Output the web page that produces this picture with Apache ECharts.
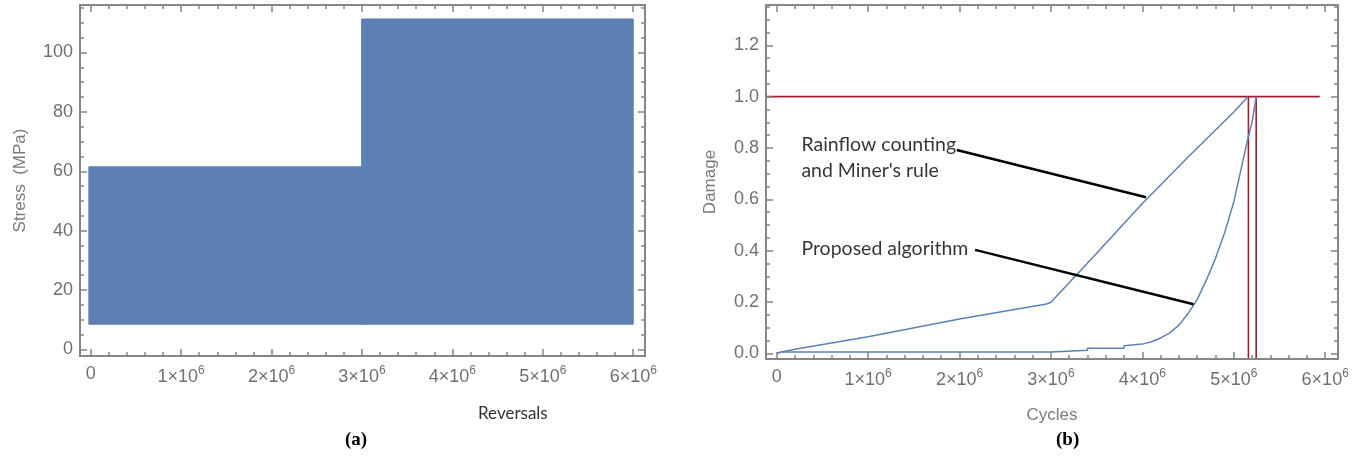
<!DOCTYPE html>
<html>
<head>
<meta charset="utf-8">
<script src="https://cdn.jsdelivr.net/npm/echarts@6/dist/echarts.min.js"></script>
<style>
  html, body { margin: 0; padding: 0; background: #fff; }
  #chart { width: 1369px; height: 460px; }
</style>
</head>
<body>
<div id="chart"></div>
<script>
// (a) stress history band
const reversals = [-0.02e6, 3e6, 3e6, 6.0e6];
const stressLow = [8.5, 8.5, 8.5, 8.5];
const stressHigh = [61.5, 61.5, 111.3, 111.3];
const stressTicks = [0, 20, 40, 60, 80, 100];

// (b) damage curves
const rainflowCycles = [0, 0.05e6, 0.2e6, 1e6, 2e6, 2.95e6, 3.0e6, 3.5e6, 4.0e6, 4.5e6, 5.0e6, 5.155e6];
const rainflowDamage = [0, 0.005, 0.016, 0.065, 0.134, 0.192, 0.199, 0.39, 0.584, 0.765, 0.94, 1.0];
const proposedCycles = [0, 0.05e6, 3e6, 3e6, 3.4e6, 3.4e6, 3.8e6, 3.8e6, 4.0e6, 4.1e6, 4.2e6, 4.3e6, 4.4e6, 4.5e6, 4.6e6, 4.7e6, 4.8e6, 4.9e6, 5.0e6, 5.1e6, 5.15e6, 5.2e6, 5.245e6];
const proposedDamage = [0, 0.005, 0.005, 0.012, 0.012, 0.02, 0.02, 0.03, 0.036, 0.045, 0.06, 0.08, 0.11, 0.155, 0.21, 0.285, 0.37, 0.47, 0.59, 0.75, 0.83, 0.9, 1.0];
const limitCycles = [-0.2e6, 5.94e6];
const limitDamage = [1.0, 1.0];
const failureCycles = [5.16e6, 5.245e6];
const damageTicks = [0, 0.2, 0.4, 0.6, 0.8, 1.0, 1.2];
const cycleTicks = [0, 1e6, 2e6, 3e6, 4e6, 5e6, 6e6];

// annotations
const noteCycles = [0.27e6, 0.27e6];
const noteDamage = [0.761, 0.409];
const noteText = ['Rainflow counting\nand Miner\'s rule', 'Proposed algorithm'];
const leaderRainflow = [[1.97e6, 0.792], [4.04e6, 0.608]];
const leaderProposed = [[2.17e6, 0.403], [4.56e6, 0.191]];

const BLUE = '#5e81b5';
const RED = '#a31a2e';
const FRAME = '#858585';
const LABEL = '#707070';

function minors(lo, hi, step, majorStep) {
  const out = [];
  for (let i = Math.ceil(lo / step); i * step <= hi; i++) {
    const v = i * step;
    if (Math.abs(v / majorStep - Math.round(v / majorStep)) > 1e-6) out.push(v);
  }
  return out;
}

function xFmt(v) {
  if (v === 0) return '{n|0}';
  return '{n|' + Math.round(v / 1e6) + '×10}{e|6}';
}

const labelRich = {
  n: { fontSize: 18, color: LABEL, fontFamily: 'Liberation Sans', verticalAlign: 'bottom' },
  e: { fontSize: 12, color: LABEL, fontFamily: 'Liberation Sans', verticalAlign: 'bottom', padding: [0, 0, 9, 0] }
};

// 4 x axes + 4 y axes per grid: major/minor on each side of the frame
function frameAxes(dim, grid, min, max, majors, minorList, withLabels, fmt) {
  const sides = dim === 'x' ? ['bottom', 'top'] : ['left', 'right'];
  const axes = [];
  sides.forEach((pos, s) => {
    [majors, minorList].forEach((vals, k) => {
      axes.push({
        type: 'value', gridIndex: grid, position: pos, min: min, max: max, z: 10,
        splitLine: { show: false },
        axisLine: { show: k === 0, onZero: false, lineStyle: { color: FRAME, width: 2 } },
        axisTick: { show: true, inside: true, length: k === 0 ? 7 : 4, customValues: vals,
          lineStyle: { color: FRAME, width: 1.5 } },
        axisLabel: s === 0 && k === 0 && withLabels ? {
          show: true, customValues: vals, formatter: fmt, rich: dim === 'x' ? labelRich : undefined,
          color: LABEL, fontSize: 18, fontFamily: 'Liberation Sans', margin: dim === 'x' ? 9 : 7
        } : { show: false }
      });
    });
  });
  return axes;
}

const xA = frameAxes('x', 0, -0.118e6, 6.13e6, cycleTicks, minors(0, 6.13e6, 0.2e6, 1e6), true, xFmt);
const yA = frameAxes('y', 0, -2.2, 116, stressTicks, minors(0, 116, 5, 20), true, v => String(v));
const xB = frameAxes('x', 1, -0.117e6, 6.14e6, cycleTicks, minors(0, 6.14e6, 0.2e6, 1e6), true, xFmt);
const yB = frameAxes('y', 1, -0.022, 1.357, damageTicks, minors(0, 1.357, 0.05, 0.2), true, v => v.toFixed(1));

yA[0].name = 'Stress  (MPa)';
yB[0].name = 'Damage';
xB[0].name = 'Cycles';
[yA[0], yB[0], xB[0]].forEach(a => {
  a.nameLocation = 'middle';
  a.nameTextStyle = { color: '#7a7a7a', fontSize: 17, fontFamily: 'Liberation Sans' };
});
yA[0].nameGap = 51;
yB[0].nameGap = 47;
xB[0].nameGap = 48;

const chart = echarts.init(document.getElementById('chart'), null, { renderer: 'canvas' });

// band between stressLow and stressHigh, drawn segment by segment
function renderBand(params, api) {
  const i = params.dataIndex;
  if (i >= reversals.length - 1) return null;
  const pts = [
    api.coord([reversals[i], stressLow[i]]),
    api.coord([reversals[i + 1], stressLow[i + 1]]),
    api.coord([reversals[i + 1], stressHigh[i + 1]]),
    api.coord([reversals[i], stressHigh[i]])
  ];
  return {
    type: 'polygon',
    shape: { points: pts },
    style: { fill: BLUE, stroke: BLUE, lineWidth: 1 }
  };
}

const option = {
  animation: false,
  grid: [
    { left: 80, top: 5, width: 565, height: 351 },
    { left: 766, top: 5, width: 572, height: 354 }
  ],
  xAxis: xA.concat(xB),
  yAxis: yA.concat(yB),
  graphic: [
    { type: 'text', left: 518 - 40, top: 405, style: { text: 'Reversals', font: '17px Lato', fill: '#333' } },
    { type: 'text', left: 345, top: 431, style: { text: '(a)', font: 'bold 19px "Liberation Serif"', fill: '#000' } },
    { type: 'text', left: 1056, top: 431, style: { text: '(b)', font: 'bold 19px "Liberation Serif"', fill: '#000' } }
  ],
  series: [
    {
      type: 'custom', xAxisIndex: 0, yAxisIndex: 0, renderItem: renderBand,
      encode: { x: 0, y: [1, 2] },
      data: reversals.map((x, i) => [x, stressLow[i], stressHigh[i]])
    },
    {
      type: 'line', xAxisIndex: 4, yAxisIndex: 4, symbol: 'none',
      lineStyle: { color: RED, width: 1.6 },
      data: limitCycles.map((x, i) => [x, limitDamage[i]])
    },
    {
      type: 'line', xAxisIndex: 4, yAxisIndex: 4, symbol: 'none',
      lineStyle: { color: RED, width: 1.6 },
      data: [[failureCycles[0], -0.05], [failureCycles[0], 1.0]]
    },
    {
      type: 'line', xAxisIndex: 4, yAxisIndex: 4, symbol: 'none',
      lineStyle: { color: RED, width: 1.6 },
      data: [[failureCycles[1], -0.05], [failureCycles[1], 1.0]]
    },
    {
      type: 'line', xAxisIndex: 4, yAxisIndex: 4, symbol: 'none',
      lineStyle: { color: BLUE, width: 1.5 },
      data: rainflowCycles.map((x, i) => [x, rainflowDamage[i]])
    },
    {
      type: 'line', xAxisIndex: 4, yAxisIndex: 4, symbol: 'none',
      lineStyle: { color: BLUE, width: 1.5 },
      data: proposedCycles.map((x, i) => [x, proposedDamage[i]])
    },
    {
      type: 'line', xAxisIndex: 4, yAxisIndex: 4, symbol: 'none',
      lineStyle: { color: '#000', width: 2.5 },
      data: leaderRainflow
    },
    {
      type: 'line', xAxisIndex: 4, yAxisIndex: 4, symbol: 'none',
      lineStyle: { color: '#000', width: 2.5 },
      data: leaderProposed
    },
    {
      type: 'scatter', xAxisIndex: 4, yAxisIndex: 4, symbolSize: 0,
      label: {
        show: true, position: 'right', distance: 0, formatter: p => p.name,
        color: '#000', fontSize: 19.5, fontFamily: 'Lato', lineHeight: 26, align: 'left'
      },
      data: noteCycles.map((x, i) => ({ name: noteText[i], value: [x, noteDamage[i]] }))
    }
  ]
};

chart.setOption(option);
</script>
</body>
</html>
